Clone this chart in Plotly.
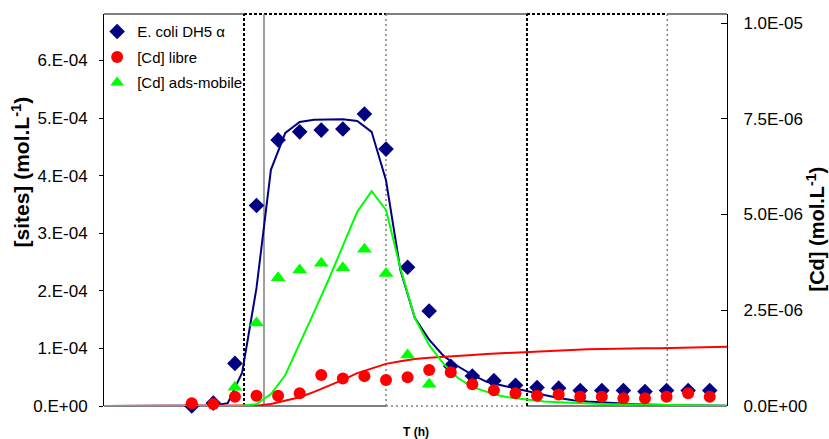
import plotly.graph_objects as go

# measured points (time in h)
t_data = [0, 1.5, 3, 4.5, 6, 7.5, 9, 10.5, 12, 13.5, 15, 16.5, 18, 19.5, 21,
          22.5, 24, 25.5, 27, 28.5, 30, 31.5, 33, 34.5, 36]
sites = [0.0, 0.05e-4, 0.74e-4, 3.48e-4, 4.62e-4, 4.76e-4, 4.79e-4, 4.81e-4, 5.07e-4,
         4.46e-4, 2.41e-4, 1.65e-4, 0.69e-4, 0.52e-4, 0.44e-4, 0.36e-4, 0.32e-4,
         0.31e-4, 0.27e-4, 0.27e-4, 0.27e-4, 0.25e-4, 0.27e-4, 0.27e-4, 0.27e-4]
cd_libre = [0.7e-7, 0.5e-7, 2.4e-7, 2.7e-7, 2.7e-7, 3.3e-7, 8.1e-7, 7.2e-7, 7.8e-7,
            6.8e-7, 7.5e-7, 9.4e-7, 8.8e-7, 5.7e-7, 4.1e-7, 3.3e-7, 2.7e-7, 3.0e-7,
            2.4e-7, 2.4e-7, 2.0e-7, 2.0e-7, 2.4e-7, 3.3e-7, 2.4e-7]
cd_ads = [None, None, 0.49e-6, 2.17e-6, 3.35e-6, 3.55e-6, 3.73e-6, 3.61e-6, 4.09e-6,
          3.46e-6, 1.33e-6, 0.57e-6, None, None, None, None, None, None, None,
          None, None, None, None, None, None]

# model curves
t_model = [-6.5, -5.5, -4.5, -3.5, -2.5, -1.5, -0.5, 0.5, 1.5, 2.5, 3.5, 4.5, 5.5,
           6.5, 7.5, 8.5, 9.5, 10.5, 11.5, 12.5, 13.5, 14.5, 15.5, 16.5, 17.5,
           18.5, 19.5, 20.5, 21.5, 22.5, 23.5, 24.5, 25.5, 26.5, 27.5, 28.5,
           29.5, 30.5, 31.5, 32.5, 33.5, 34.5, 35.5, 36.5, 37.5]
sites_model = [0, 0, 0, 0, 0, 0, 0, 0, 0.01e-4, 0.05e-4, 0.58e-4, 2.05e-4, 4.10e-4,
               4.74e-4, 4.93e-4, 4.97e-4, 4.98e-4, 4.98e-4, 4.95e-4, 4.76e-4,
               3.92e-4, 2.36e-4, 1.53e-4, 1.15e-4, 0.87e-4, 0.69e-4, 0.54e-4,
               0.42e-4, 0.36e-4, 0.30e-4, 0.24e-4, 0.19e-4, 0.14e-4, 0.10e-4,
               0.078e-4, 0.06e-4, 0.047e-4, 0.035e-4, 0.026e-4, 0.017e-4,
               0.014e-4, 0.010e-4, 0.009e-4, 0.007e-4, 0.005e-4]
libre_model = [0, 0, 0, 0, 0, 0, 0, 0, 0, 0, 0, 0.01e-6, 0.05e-6, 0.14e-6, 0.23e-6,
               0.37e-6, 0.52e-6, 0.68e-6, 0.86e-6, 0.99e-6, 1.10e-6, 1.17e-6,
               1.23e-6, 1.26e-6, 1.28e-6, 1.31e-6, 1.33e-6, 1.36e-6, 1.38e-6,
               1.40e-6, 1.42e-6, 1.44e-6, 1.45e-6, 1.47e-6, 1.48e-6, 1.49e-6,
               1.50e-6, 1.50e-6, 1.51e-6, 1.51e-6, 1.52e-6, 1.53e-6, 1.54e-6,
               1.55e-6, 1.55e-6]
ads_model = [0, 0, 0, 0, 0, 0, 0, 0, 0, 0, 0.005e-6, 0.05e-6, 0.31e-6, 0.81e-6,
             1.62e-6, 2.45e-6, 3.29e-6, 4.20e-6, 5.07e-6, 5.61e-6, 5.12e-6,
             3.60e-6, 2.30e-6, 1.59e-6, 1.10e-6, 0.73e-6, 0.50e-6, 0.37e-6,
             0.26e-6, 0.20e-6, 0.16e-6, 0.12e-6, 0.10e-6, 0.08e-6, 0.065e-6,
             0.05e-6, 0.044e-6, 0.037e-6, 0.031e-6, 0.026e-6, 0.02e-6, 0.016e-6,
             0.013e-6, 0.01e-6, 0.008e-6]

left_ticks = [0, 1e-4, 2e-4, 3e-4, 4e-4, 5e-4, 6e-4]
left_labels = ["0.E+00", "1.E-04", "2.E-04", "3.E-04", "4.E-04", "5.E-04", "6.E-04"]
right_ticks = [0, 2.5e-6, 5e-6, 7.5e-6, 1e-5]
right_labels = ["0.0E+00", "2.5E-06", "5.0E-06", "7.5E-06", "1.0E-05"]

NAVY = "#000080"
RED = "#FF0000"
GREEN = "#00FF00"
FONT = "Liberation Sans, Arial, sans-serif"

fig = go.Figure()

fig.add_trace(go.Scatter(x=t_model, y=sites_model, mode="lines", showlegend=False,
                         line=dict(color=NAVY, width=2), yaxis="y"))
fig.add_trace(go.Scatter(x=t_model, y=libre_model, mode="lines", showlegend=False,
                         line=dict(color=RED, width=2), yaxis="y2"))
fig.add_trace(go.Scatter(x=t_model, y=ads_model, mode="lines", showlegend=False,
                         line=dict(color=GREEN, width=2), yaxis="y2"))

fig.add_trace(go.Scatter(x=t_data, y=sites, mode="markers", name="E. coli DH5 α",
                         legendgroup="a",
                         marker=dict(symbol="diamond", size=12, color=NAVY),
                         cliponaxis=False, yaxis="y"))
fig.add_trace(go.Scatter(x=t_data, y=cd_libre, mode="markers", name="[Cd] libre",
                         legendgroup="b",
                         marker=dict(symbol="circle", size=12, color=RED),
                         cliponaxis=False, yaxis="y2"))
fig.add_trace(go.Scatter(x=t_data, y=cd_ads, mode="markers", name="[Cd] ads-mobile",
                         legendgroup="c",
                         marker=dict(symbol="triangle-up", size=13, color=GREEN),
                         cliponaxis=False, yaxis="y2"))

x0, x1 = -6.1, 37.2
xa, xb, xc, xd, xe = 3.63, 5.02, 13.5, 23.3, 33.05

def seg(xs, xe_, y, color, width, dash):
    return dict(type="line", xref="x", yref="paper", x0=xs, x1=xe_, y0=y, y1=y,
                line=dict(color=color, width=width, dash=dash), layer="below")

def vline(x, color, width, dash):
    return dict(type="line", xref="x", yref="paper", x0=x, x1=x, y0=0, y1=1,
                line=dict(color=color, width=width, dash=dash), layer="below")

shapes = [
    seg(x0, xa, 1, "black", 1, "solid"),
    seg(xa, xc, 1, "black", 2, "3px,2px"),
    seg(xc, xd, 1, "black", 1, "solid"),
    seg(xd, xe, 1, "black", 2, "3px,2px"),
    seg(xe, x1, 1, "black", 1, "solid"),
    seg(x0, xc, 0, "black", 1, "solid"),
    seg(xc, xd, 0, "#808080", 1.5, "2px,3px"),
    seg(xd, x1, 0, "black", 1, "solid"),
    vline(xa, "black", 2, "3px,2px"),
    vline(xb, "#808080", 1.5, "solid"),
    vline(xc, "#808080", 1.5, "2px,3px"),
    vline(xd, "black", 2, "3px,2px"),
    vline(xe, "#808080", 1.5, "2px,3px"),
]

fig.update_layout(
    width=829, height=439,
    margin=dict(l=104, r=102, t=14, b=33, autoexpand=False),
    plot_bgcolor="white", paper_bgcolor="white",
    font=dict(family=FONT, size=17, color="black"),
    showlegend=True,
    legend=dict(x=-0.011, y=0.997, xanchor="left", yanchor="top",
                bgcolor="rgba(0,0,0,0)", font=dict(size=15),
                itemsizing="constant", tracegroupgap=3),
    xaxis=dict(range=[x0, x1], showticklabels=False, ticks="", showgrid=False,
               zeroline=False, showline=False),
    yaxis=dict(range=[0, 6.806e-4], tickvals=left_ticks, ticktext=left_labels,
               ticks="outside", ticklen=4, tickcolor="black", showgrid=False,
               ticklabelstandoff=8,
               zeroline=False, showline=True, linecolor="black", linewidth=1),
    yaxis2=dict(range=[0, 1.0235e-5], tickvals=right_ticks, ticktext=right_labels,
                overlaying="y", side="right", ticks="inside", ticklen=6,
                ticklabelstandoff=12,
                tickcolor="black", showgrid=False, zeroline=False, showline=True,
                linecolor="black", linewidth=1),
    shapes=shapes,
    annotations=[
        dict(text="<b>[sites] (mol.L<sup>-1</sup>)</b>", xref="paper", yref="paper",
             x=-0.134, y=(406 - 172) / 392, textangle=-90, showarrow=False,
             xanchor="center", yanchor="middle", font=dict(size=21)),
        dict(text="<b>[Cd] (mol.L<sup>-1</sup>)</b>", xref="paper", yref="paper",
             x=1 + (815 - 727) / 623, y=(406 - 229.5) / 392, textangle=-90,
             showarrow=False, xanchor="center", yanchor="middle", font=dict(size=20)),
        dict(text="<b>T (h)</b>", xref="paper", yref="paper", x=0.5,
             y=(406 - 432) / 392, showarrow=False, xanchor="center",
             yanchor="middle", font=dict(size=12)),
    ],
)

fig.write_html("out.html", post_script="document.body.style.margin='0';",
               config={"displayModeBar": False})
